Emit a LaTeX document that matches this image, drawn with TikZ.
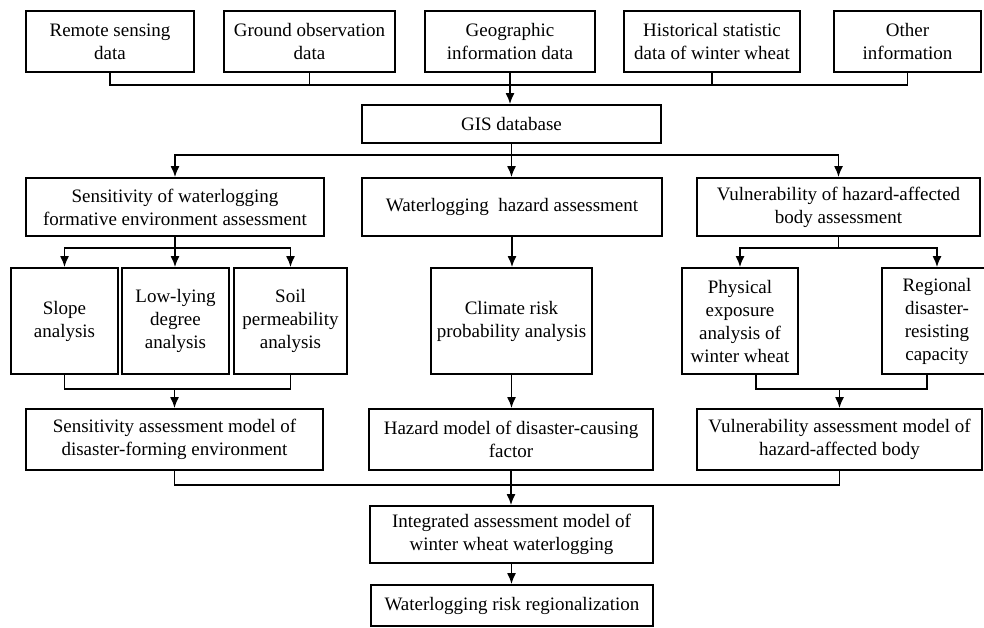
\documentclass[tikz,border=0pt]{standalone}
\usepackage{fontspec}
\setmainfont{Liberation Serif}
\usetikzlibrary{arrows.meta, positioning, calc}

\begin{document}
\begin{tikzpicture}[
    x=1pt, y=-1pt,
    box/.style={rectangle, draw, line width=1.8pt, align=center, inner sep=2pt, font=\fontsize{19}{23}\selectfont},
    arrow/.style={-{Latex[length=11pt,width=9pt]}, line width=1.6pt},
    link/.style={line width=1.6pt}
]
\useasboundingbox (0,0) rectangle (984,628);

% Data sources
\foreach \n/\x/\w/\t in {remote/110/168/{Remote sensing\\data}, ground/309.5/171/{Ground observation\\data}, geo/510/170/{Geographic\\information data}, hist/712/176/{Historical statistic\\data of winter wheat}, other/907.5/147/{Other\\information}} {
    \node[box, minimum width=\w, minimum height=61] (\n) at (\x,41.5) {\t};
}

% GIS database
\node[box, minimum width=299, minimum height=38] (gis) at (511.5,124) {GIS database};

\coordinate (bus1) at (0,85);
\draw[link] (remote.south) |- (other.south |- bus1) -- (other.south);
\foreach \n in {ground, hist} {
    \draw[link] (\n.south) -- (\n.south |- bus1);
}
\draw[arrow] (geo.south) -- (geo.south |- gis.north);

% Assessments
\node[box, minimum width=298, minimum height=58] (sens) at (175,207) {Sensitivity of waterlogging\\formative environment assessment};
\node[box, minimum width=300, minimum height=58] (haz) at (512,207) {Waterlogging\ \ hazard assessment};
\node[box, minimum width=283, minimum height=58] (vul) at (838.5,207) {Vulnerability of hazard-affected\\body assessment};

\coordinate (bus2) at (0,155);
\draw[arrow] (gis.south) -- (gis.south |- haz.north);
\draw[arrow] (gis.south |- bus2) -| (sens.north);
\draw[arrow] (gis.south |- bus2) -| (vul.north);

% Analyses
\node[box, minimum width=107, minimum height=106] (slope) at (64.5,321) {Slope\\analysis};
\node[box, minimum width=107, minimum height=106] (low) at (175.5,321) {Low-lying\\degree\\analysis};
\node[box, minimum width=113, minimum height=106] (soil) at (290.5,321) {Soil\\permeability\\analysis};
\node[box, minimum width=161, minimum height=106] (clim) at (511.5,321) {Climate risk\\probability analysis};
\node[box, minimum width=116, minimum height=106] (phys) at (740,321) {Physical\\exposure\\analysis of\\winter wheat};
\node[box, minimum width=110, minimum height=106] (reg) at (937,321) {Regional\\disaster-\\resisting\\capacity};

\coordinate (bus3) at (0,248);
\draw[arrow] (sens.south) -- (sens.south |- low.north);
\draw[arrow] (sens.south |- bus3) -| (slope.north);
\draw[arrow] (sens.south |- bus3) -| (soil.north);
\draw[arrow] (haz.south) -- (haz.south |- clim.north);
\draw[link] (vul.south) -- (vul.south |- bus3);
\draw[arrow] (vul.south |- bus3) -| (phys.north);
\draw[arrow] (vul.south |- bus3) -| (reg.north);

% Models
\node[box, minimum width=297, minimum height=61] (sensm) at (174.5,439.5) {Sensitivity assessment model of\\disaster-forming environment};
\node[box, minimum width=284, minimum height=61] (hazm) at (511,439.5) {Hazard model of disaster-causing\\factor};
\node[box, minimum width=285, minimum height=61] (vulm) at (839.5,439.5) {Vulnerability assessment model of\\hazard-affected body};

\coordinate (bus4) at (0,389);
\draw[link] (slope.south) |- (soil.south |- bus4) -- (soil.south);
\draw[arrow] (sensm.north |- bus4) -- (sensm.north);
\draw[arrow] (clim.south) -- (clim.south |- hazm.north);
\draw[link] ([xshift=16]phys.south) |- ([xshift=-10]reg.south |- bus4) -- ([xshift=-10]reg.south);
\draw[arrow] (vulm.north |- bus4) -- (vulm.north);

% Integration
\node[box, minimum width=283, minimum height=57] (integ) at (511.5,534.5) {Integrated assessment model of\\winter wheat waterlogging};
\node[box, minimum width=282, minimum height=41] (zone) at (512,605.5) {Waterlogging risk regionalization};

\coordinate (bus5) at (0,485);
\draw[link] (sensm.south) |- (vulm.south |- bus5) -- (vulm.south);
\draw[arrow] (hazm.south) -- (hazm.south |- integ.north);
\draw[arrow] (integ.south) -- (integ.south |- zone.north);

\end{tikzpicture}
\end{document}
